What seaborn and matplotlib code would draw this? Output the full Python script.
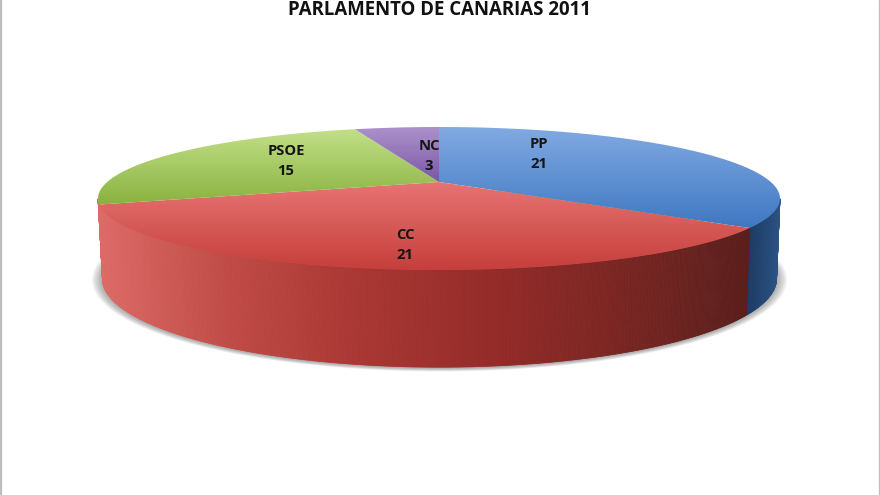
import numpy as np
import matplotlib
matplotlib.use('Agg')
import matplotlib.pyplot as plt
from matplotlib.collections import PolyCollection
from matplotlib.patches import Polygon
import seaborn as sns

# Seats per party
parties = ['PP', 'CC', 'PSOE', 'NC']
seats = [21, 21, 15, 3]
title = 'PARLAMENTO DE CANARIAS 2011'

# Top face gradient (far edge, near edge) and side wall gradient (left, right)
top_colors = [['#82aae2', '#3f78c2'], ['#e67573', '#c63f3c'],
              ['#c2df88', '#8ab23f'], ['#ad92cc', '#7a58a6']]
wall_colors = [['#1d3b64', '#2b5282'],
               ['#dc6a66', '#c04a45', '#a93632', '#952b28', '#7a2522', '#5a1f1c'],
               ['#dc6a66', '#dc6a66'], ['#7a58a6', '#7a58a6']]

# Label centres in pixels
label_x = [539, 405, 286, 429]
label_y = [154.5, 245, 161, 156.5]

sns.set_theme(style='white')
plt.rcParams['font.family'] = ['Open Sans', 'DejaVu Sans']

fig = plt.figure(figsize=(8.8, 4.95), dpi=100)
ax = fig.add_axes([0, 0, 1, 1])

# the pie gives the angles, then each wedge is redrawn in perspective
wedges, _ = ax.pie(seats, startangle=90, counterclock=False)
angles = [(w.theta1, w.theta2) for w in wedges]
for w in wedges:
    w.remove()

ax.set_aspect('auto')
ax.set_xlim(0, 880)
ax.set_ylim(495, 0)
ax.axis('off')

K = 0.2308


def project(theta, r, cx, cy, rx, ry):
    t = np.radians(theta)
    u, v = r * np.cos(t), r * np.sin(t)
    d = 1 + K * v
    return cx + rx * u / d, cy - ry * v / d


def top_face(theta, r=1.0):
    return project(theta, r, 439, 182, 331.8, 67.7)


def bottom_face(theta):
    return project(theta, 1.0, 439.5, 258, 328, 84)


# soft shadow under the body
full = np.linspace(0, 360, 361)
sx, sy = bottom_face(full)
for i in range(12):
    grow = 1 + (11 - i) * 0.0028
    px = 440 + (sx - 440) * grow
    py = 262 + (sy - 262) * grow + 1.0
    ax.add_patch(Polygon(np.column_stack([px, py]), closed=True, fc='#666666',
                         ec='none', alpha=0.06, zorder=1))

# side wall, thin strips coloured along x
limit = -K
for (t1, t2), cols in zip(angles, wall_colors):
    th = np.arange(t1, t2 + 0.25, 0.25)
    th = th[np.sin(np.radians(th)) <= limit]
    if len(th) < 2:
        continue
    tx, ty = top_face(th)
    bx, by = bottom_face(th)
    x_lo, x_hi = tx.min(), tx.max()
    cmap = sns.blend_palette(cols, as_cmap=True)
    quads, faces = [], []
    for i in range(len(th) - 1):
        quads.append([(tx[i], ty[i]), (tx[i + 1], ty[i + 1]),
                      (bx[i + 1], by[i + 1]), (bx[i], by[i])])
        faces.append(cmap((tx[i] - x_lo) / (x_hi - x_lo)))
    ax.add_collection(PolyCollection(quads, facecolors=faces, edgecolors=faces,
                                     linewidths=0.5, zorder=2))

# top face
for (t1, t2), cols in zip(angles, top_colors):
    th = np.linspace(t1, t2, 200)
    ex, ey = top_face(th)
    ax_pts = np.column_stack([np.r_[439, ex], np.r_[182, ey]])
    poly = Polygon(ax_pts, closed=True, fc='none', ec='none', zorder=3)
    ax.add_patch(poly)
    grad = np.array(sns.blend_palette(cols, 64))[:, None, :]
    im = ax.imshow(grad, extent=[90, 790, ax_pts[:, 1].max(), ax_pts[:, 1].min()],
                   aspect='auto', zorder=3, interpolation='bilinear')
    im.set_clip_path(poly)

ax.set_xlim(0, 880)
ax.set_ylim(495, 0)

# labels
for name, n, x, y in zip(parties, seats, label_x, label_y):
    ax.text(x, y - 10, name, ha='center', va='center', fontsize=10.6,
            fontweight='bold', color='#151515', zorder=5)
    ax.text(x, y + 10, str(n), ha='center', va='center', fontsize=10.6,
            fontweight='bold', color='#151515', zorder=5)

ax.text(439, 15, title, ha='center', va='baseline', fontsize=13.4,
        fontweight='bold', color='#111111', zorder=5)

# frame of the pasted chart
ax.axvline(0.8, color='#bdbdbd', lw=1.6, zorder=6)
ax.axvline(878.5, color='#bdbdbd', lw=0.9, zorder=6)

fig.savefig('out.png', dpi=100)
